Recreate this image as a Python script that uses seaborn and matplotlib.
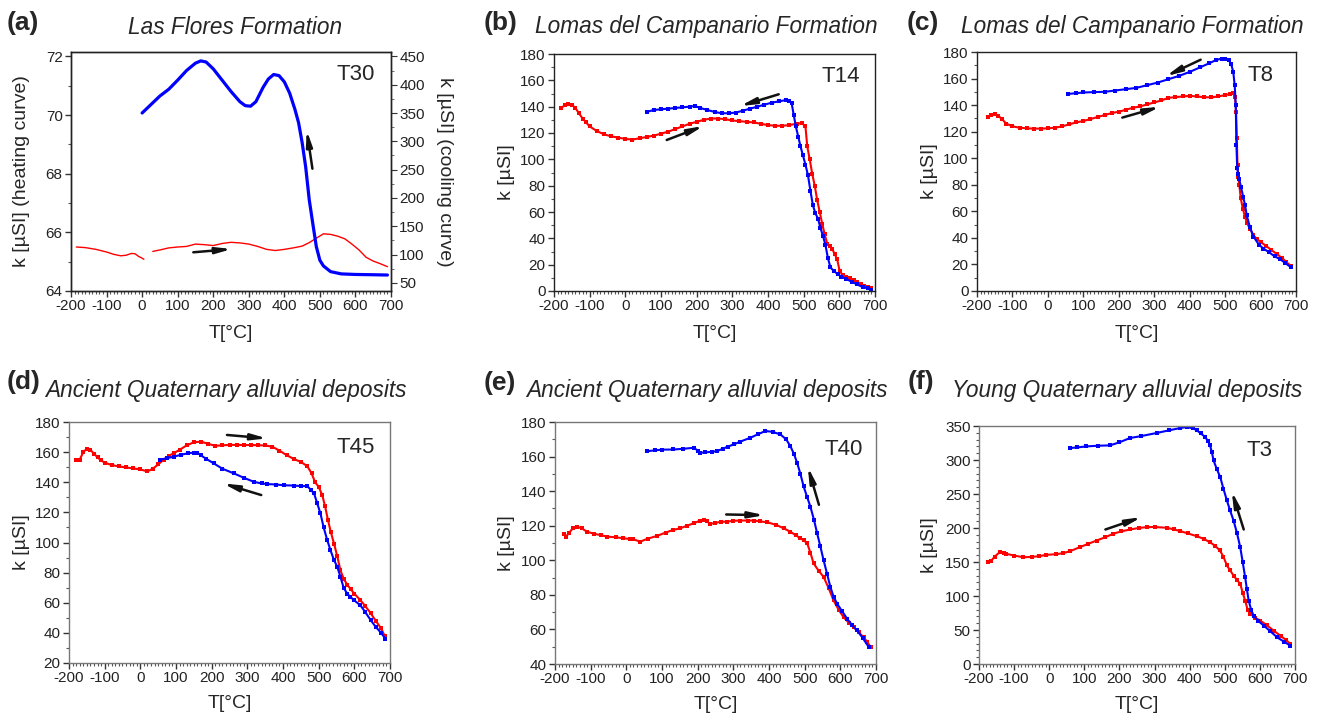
import numpy as np
import pandas as pd
import matplotlib
matplotlib.use("Agg")
import matplotlib.pyplot as plt
from matplotlib.ticker import MultipleLocator
import seaborn as sns

# ---------------- data ----------------
# (a) T30 Las Flores Formation: heating on left axis, cooling on right axis
a_heat_T1 = [-185, -160, -130, -100, -80, -60, -45, -30, -20, -10, 0, 5]
a_heat_k1 = [65.5, 65.48, 65.42, 65.33, 65.25, 65.2, 65.22, 65.28, 65.27, 65.18, 65.12, 65.08]
a_heat_T2 = [30, 50, 75, 100, 125, 150, 175, 200, 225, 250, 275, 300, 325, 350, 375, 400, 425,
             450, 470, 490, 510, 530, 550, 570, 590, 610, 630, 650, 670, 690]
a_heat_k2 = [65.35, 65.4, 65.47, 65.5, 65.52, 65.6, 65.58, 65.55, 65.62, 65.66, 65.64, 65.6, 65.52,
             65.42, 65.38, 65.42, 65.47, 65.53, 65.65, 65.8, 65.95, 65.93, 65.87, 65.78, 65.6, 65.4,
             65.15, 65.02, 64.93, 64.83]
a_cool_T = [0, 25, 50, 75, 100, 125, 150, 165, 180, 200, 225, 250, 275, 290, 305, 320, 340, 355,
            370, 385, 400, 415, 430, 440, 450, 460, 470, 480, 490, 500, 510, 530, 560, 600, 650, 690]
a_cool_k = [350, 365, 380, 392, 408, 425, 438, 442, 440, 428, 408, 388, 370, 363, 362, 370, 395, 410,
            418, 416, 405, 385, 356, 333, 298, 255, 197, 155, 114, 90, 80, 70, 66, 65, 64.5, 64]

# (b) T14
b_heat_T = [-180, -170, -160, -150, -140, -130, -120, -110, -100, -80, -60, -40, -20, 0, 20, 40, 60,
            80, 100, 120, 140, 160, 180, 200, 220, 240, 260, 280, 300, 320, 340, 360, 380, 400, 420,
            440, 460, 480, 495, 505, 510, 517, 524, 531, 538, 545, 552, 559, 566, 573, 580, 587, 594,
            601, 610, 620, 630, 640, 650, 660, 670, 680, 688]
b_heat_k = [139, 141, 142, 141.5, 139, 135, 131, 128, 125, 121.5, 119, 117.5, 116.5, 115.5, 115, 116,
            117, 118, 119.5, 121, 123, 125, 127, 128.5, 130, 131, 131, 130.5, 129.5, 129, 128.5, 128,
            127, 126, 125.5, 125.5, 126, 127, 127.5, 125, 110, 100, 89, 80, 69, 60, 51, 43, 36, 34,
            32, 28, 24, 15, 12, 11, 10, 8, 7, 5, 4, 3, 2]
b_cool_T = [60, 80, 100, 120, 140, 160, 180, 195, 210, 230, 250, 270, 290, 310, 330, 350, 370, 390,
            410, 430, 450, 460, 466, 472, 478, 485, 491, 498, 505, 512, 519, 526, 533, 540, 547, 554,
            561, 568, 575, 585, 595, 605, 620, 635, 650, 665, 680, 688]
b_cool_k = [136, 137.5, 138, 138.5, 139, 139.5, 140, 140.5, 139, 137.5, 136, 135, 135, 135.5, 137,
            138.5, 140, 141.5, 143, 144, 145, 144.5, 143, 134, 125, 117, 110, 103, 96, 88, 76, 65,
            59, 55, 48, 42, 35, 25, 18, 15, 13, 11, 9, 7, 5, 3, 2, 1]

# (c) T8
c_heat_T = [-170, -160, -150, -140, -130, -117, -100, -80, -60, -40, -20, 0, 20, 40, 60, 80, 100,
            120, 140, 160, 180, 200, 220, 240, 260, 280, 300, 320, 340, 360, 380, 400, 420, 440, 460,
            480, 500, 515, 523, 528, 531, 533, 535, 537, 540, 544, 550, 556, 562, 570, 580, 590, 600,
            615, 630, 645, 660, 672, 685]
c_heat_k = [131, 132.5, 133, 132, 129.5, 126, 124, 123, 122.5, 122.3, 122.3, 122.5, 123, 124, 125.5,
            127, 128, 129.5, 131, 132.5, 134, 135, 136.5, 138, 139, 140.5, 142, 143.5, 145.5, 146,
            146.5, 147, 146.5, 146, 145.8, 146.5, 147.5, 148.5, 149, 146, 135, 115, 95, 86, 80, 70,
            62, 56, 51, 47, 42, 39, 37, 34, 31, 28, 25, 22, 19]
c_cool_T = [57, 80, 100, 130, 160, 190, 220, 250, 280, 310, 340, 370, 400, 430, 455, 475, 490, 500,
            510, 517, 523, 527, 530, 532, 534, 537, 540, 545, 551, 556, 561, 570, 580, 595, 608, 625,
            640, 655, 670, 685]
c_cool_k = [148.4, 149, 149.5, 149.8, 150, 151, 152, 153, 155, 157, 159.5, 162, 165, 168.5, 171.5,
            174, 175, 175, 174, 171, 165, 155, 140, 110, 93, 88, 84, 78, 71, 65, 57, 48, 41, 35, 32,
            29, 26, 24, 21, 18]

# (d) T45
d_heat_T = [-180, -170, -160, -150, -140, -130, -120, -110, -100, -80, -60, -40, -20, 0, 20, 35, 50,
            65, 80, 95, 110, 130, 150, 170, 190, 210, 230, 250, 270, 290, 310, 330, 350, 370, 390,
            410, 430, 450, 468, 480, 490, 500, 510, 518, 526, 534, 543, 552, 561, 570, 580, 590, 600,
            617, 630, 646, 660, 675, 685]
d_heat_k = [154.7, 155, 160, 162.3, 161.5, 159, 156.5, 154.5, 153, 151.4, 150.5, 149.8, 149.2, 148.5,
            147.2, 149, 151.8, 155, 157.5, 159.5, 161.5, 164.5, 166.5, 167, 165.5, 164.2, 164.5,
            164.8, 164.8, 164.7, 164.7, 164.6, 164.4, 163.6, 161, 158, 155.5, 153.5, 150.7, 146, 140,
            137, 131.5, 124, 115, 107, 99.3, 91, 81.6, 76, 72, 69, 66, 61.7, 58, 53, 48, 43, 38]
d_cool_T = [56, 75, 94, 115, 135, 150, 160, 169, 185, 206, 230, 262, 290, 318, 340, 356, 380, 402,
            430, 450, 468, 478, 487, 496, 505, 514, 524, 533, 543, 552, 561, 570, 580, 589, 600, 617,
            630, 646, 660, 675, 687]
d_cool_k = [155, 156, 157, 158.3, 159.3, 159.6, 159.5, 158, 155.5, 152.5, 149, 145.9, 143, 140.3,
            139.2, 138.8, 138.5, 138, 137.8, 137.5, 137.4, 135, 132.6, 126, 119.3, 110, 101.6, 95,
            88.3, 84, 77.2, 70, 66, 63.9, 61.5, 58.3, 54, 48.4, 44, 40, 36.2]

# (e) T40
e_heat_T = [-175, -169, -160, -150, -139, -125, -111, -90, -70, -55, -30, -10, 10, 20, 39, 60, 86,
            110, 130, 151, 170, 190, 207, 217, 226, 235, 250, 265, 282, 300, 320, 340, 357, 375, 395,
            420, 441, 460, 475, 488, 498, 507, 516, 525, 539, 553, 567, 581, 595, 609, 623, 637, 651,
            665, 675, 685]
e_heat_k = [115.2, 113.7, 116, 118.5, 119.5, 118.5, 116.6, 115.3, 114.5, 113.7, 113.3, 112.8, 112.3,
            112.1, 110.8, 112.5, 114.1, 116, 117.5, 118.5, 120, 121.5, 123, 123.4, 122.5, 121, 121.7,
            122.2, 122.4, 122.8, 123, 123, 123, 122.5, 122, 120.5, 118.5, 116.5, 114.5, 112.7, 111.5,
            109.8, 104.5, 98.2, 94, 90.4, 84, 76.8, 71.5, 67.1, 64, 61.3, 58.5, 55.5, 53, 49.7]
e_cool_T = [59, 80, 100, 132, 160, 189, 200, 207, 220, 240, 254, 270, 285, 301, 320, 348, 370, 390,
            410, 432, 448, 460, 470, 479, 488, 497, 507, 516, 526, 535, 544, 553, 563, 572, 581, 591,
            605, 619, 633, 647, 663, 680]
e_cool_k = [163.1, 163.6, 164, 164.1, 164.5, 165.1, 163.5, 162.2, 162.4, 162.8, 163.1, 164.5, 165.8,
            167, 168.7, 170.9, 173, 174.8, 174.3, 172.8, 170, 166, 161.5, 156.3, 150, 142.8, 136.5,
            131.1, 123.5, 115.6, 108, 100.1, 92, 84.6, 79, 74.9, 70.5, 66.2, 62.5, 59.4, 55, 49.7]

# (f) T3
f_heat_T = [-174, -165, -155, -141, -130, -122, -100, -74, -50, -30, -8, 20, 40, 60, 87, 110, 135,
            160, 182, 205, 230, 255, 278, 300, 335, 355, 373, 395, 420, 440, 458, 472, 486, 496, 506,
            515, 525, 534, 544, 551, 558, 565, 573, 587, 601, 620, 639, 660, 675, 687]
f_heat_k = [149.7, 152, 158, 164.5, 163.5, 162, 159.5, 157, 157.5, 158.5, 160.5, 161.5, 163, 166,
            171.8, 176.5, 181.6, 186.5, 191.5, 195, 197.8, 200, 201.3, 201.5, 200.3, 198, 195.4, 192,
            188, 184, 179, 174, 167, 158, 145, 138, 130, 124, 117.8, 105, 93.3, 80, 73.6, 68, 63.8,
            57, 49.1, 41, 35, 29.5]
f_cool_T = [59, 80, 106, 140, 173, 200, 230, 260, 306, 340, 373, 392, 410, 420, 432, 444, 452, 458,
            463, 468, 477, 487, 496, 506, 515, 525, 535, 544, 551, 558, 563, 568, 575, 582, 596, 611,
            630, 649, 668, 687]
f_cool_k = [317.6, 318.5, 320, 321, 321.5, 326, 332.3, 335, 339.7, 343.5, 347, 348.5, 346.5, 343.7,
            339, 333.8, 328, 321.5, 312, 299.5, 287, 275, 258, 240.6, 226, 211, 192, 171.8, 150,
            127.6, 110, 93.3, 80, 71.2, 63, 56.5, 48, 39.3, 33, 27]

panel_letters = ["(a)", "(b)", "(c)", "(d)", "(e)", "(f)"]
titles = ["Las Flores Formation", "Lomas del Campanario Formation", "Lomas del Campanario Formation",
          "Ancient Quaternary alluvial deposits", "Ancient Quaternary alluvial deposits",
          "Young Quaternary alluvial deposits"]
samples = ["T30", "T14", "T8", "T45", "T40", "T3"]

# ---------------- style ----------------
sns.set_style("ticks")
plt.rcParams["font.family"] = ["Liberation Sans", "DejaVu Sans"]
plt.rcParams["axes.linewidth"] = 1.0
plt.rcParams["axes.unicode_minus"] = False

W, H = 1318, 718
fig = plt.figure(figsize=(W / 100, H / 100), dpi=100)


def box(l, r, t, b):
    return [l / W, 1 - b / H, (r - l) / W, (b - t) / H]


ax_pos = [box(71, 391, 52, 291), box(554, 875, 54, 291), box(977, 1296, 52, 291),
          box(69, 390, 422, 663), box(555, 876, 422, 664), box(979, 1295, 426, 664)]
axes = [fig.add_axes(p) for p in ax_pos]

RED = "#ff0000"
BLUE = "#0000ff"
ARROW = "#111111"
TICK_FS = 11


def style_axis(ax, spine_color, ymajor, yminor):
    ax.set_xlim(-200, 700)
    ax.xaxis.set_major_locator(MultipleLocator(100))
    ax.xaxis.set_minor_locator(MultipleLocator(10))
    ax.yaxis.set_major_locator(MultipleLocator(ymajor))
    ax.yaxis.set_minor_locator(MultipleLocator(yminor))
    ax.tick_params(axis="both", which="major", direction="out", length=4, width=1,
                   labelsize=TICK_FS, color="#333333", labelcolor="#222222", pad=2)
    ax.tick_params(axis="both", which="minor", direction="out", length=2, width=0.8,
                   color="#555555")
    ax.tick_params(top=False, right=False, which="both")
    for s in ax.spines.values():
        s.set_visible(True)
        s.set_color(spine_color)
    ax.set_xlabel("T[°C]", fontsize=14)
    ax.set_ylabel("k [µSI]", fontsize=14)


def arrow(ax, start, end):
    ax.annotate("", xy=end, xytext=start,
                arrowprops=dict(arrowstyle="-|>,head_length=0.9,head_width=0.18",
                                color=ARROW, lw=1.8, shrinkA=0, shrinkB=0))


def marked(ax, T, k, color):
    sns.lineplot(x=T, y=k, ax=ax, color=color, lw=1.5, marker="s", markersize=2.8,
                 markeredgewidth=0, sort=False, estimator=None)


# ---- (a) ----
ax = axes[0]
sns.lineplot(x=a_heat_T1, y=a_heat_k1, ax=ax, color=RED, lw=1.0, sort=False, estimator=None)
sns.lineplot(x=a_heat_T2, y=a_heat_k2, ax=ax, color=RED, lw=1.0, sort=False, estimator=None)
style_axis(ax, "#222222", 2, 1)
ax.set_ylim(64, 72.15)
ax.set_ylabel("k [µSI] (heating curve)", fontsize=14)
ax2 = ax.twinx()
sns.lineplot(x=a_cool_T, y=a_cool_k, ax=ax2, color=BLUE, lw=2.3, sort=False, estimator=None)
ax2.set_ylim(35.8, 457.7)
ax2.yaxis.set_major_locator(MultipleLocator(50))
ax2.yaxis.set_minor_locator(MultipleLocator(25))
ax2.tick_params(axis="y", which="major", direction="out", length=4, labelsize=TICK_FS,
                color="#333333", labelcolor="#222222", pad=2)
ax2.tick_params(axis="y", which="minor", direction="out", length=2, color="#555555")
ax2.set_ylabel("k [µSI] (cooling curve)", fontsize=14, rotation=270, va="bottom")
ax2.yaxis.set_label_coords(1.14, 0.5)
for s in ax2.spines.values():
    s.set_color("#222222")
arrow(ax, (144, 65.32), (252, 65.43))
arrow(ax, (479, 68.17), (463, 69.48))

# ---- (b) ----
ax = axes[1]
marked(ax, b_heat_T, b_heat_k, RED)
marked(ax, b_cool_T, b_cool_k, BLUE)
style_axis(ax, "#222222", 20, 10)
ax.set_ylim(0, 180)
arrow(ax, (116, 114.7), (219, 125.3))
arrow(ax, (430, 149.4), (322, 140.5))

# ---- (c) ----
ax = axes[2]
marked(ax, c_heat_T, c_heat_k, RED)
marked(ax, c_cool_T, c_cool_k, BLUE)
style_axis(ax, "#222222", 20, 10)
ax.set_ylim(0, 180)
arrow(ax, (431, 174.2), (333, 161.8))
arrow(ax, (210, 130.6), (316, 138.7))

# ---- (d) ----
ax = axes[3]
marked(ax, d_heat_T, d_heat_k, RED)
marked(ax, d_cool_T, d_cool_k, BLUE)
style_axis(ax, "#777777", 20, 10)
ax.set_ylim(20, 180)
arrow(ax, (243, 171.4), (355, 169.1))
arrow(ax, (339, 131.5), (232, 139.2))

# ---- (e) ----
ax = axes[4]
marked(ax, e_heat_T, e_heat_k, RED)
marked(ax, e_cool_T, e_cool_k, BLUE)
style_axis(ax, "#777777", 20, 10)
ax.set_ylim(40, 180)
arrow(ax, (280, 126.5), (387, 126.1))
arrow(ax, (540, 132.1), (509, 154))

# ---- (f) ----
ax = axes[5]
marked(ax, f_heat_T, f_heat_k, RED)
marked(ax, f_cool_T, f_cool_k, BLUE)
style_axis(ax, "#777777", 50, 10)
ax.set_ylim(0, 350)
arrow(ax, (160, 197.8), (263, 216))
arrow(ax, (554, 197.8), (520, 253.8))

# label placement
ylab_x = [-0.128, -0.121, -0.122, -0.121, -0.125, -0.13]
xlab_y = [-0.142, -0.142, -0.142, -0.133, -0.133, -0.133]
samp_pos = [(0.95, 0.904), (0.953, 0.903), (0.928, 0.90), (0.953, 0.896), (0.96, 0.888), (0.93, 0.899)]
for i, ax in enumerate(axes):
    ax.yaxis.set_label_coords(ylab_x[i], 0.5)
    ax.xaxis.set_label_coords(0.5, xlab_y[i])
    ax.text(samp_pos[i][0], samp_pos[i][1], samples[i], transform=ax.transAxes,
            ha="right", va="center", fontsize=16, zorder=5)

# panel letters and titles (pixel positions)
letter_pos = [(7, 23), (484, 23), (907, 23), (7, 382), (484, 383), (908, 382)]
title_pos = [(235, 27), (706, 27), (1132, 27), (226, 390), (707, 391), (1127, 391)]
for i in range(6):
    fig.text(letter_pos[i][0] / W, 1 - letter_pos[i][1] / H, panel_letters[i], fontsize=19,
             fontweight="bold", ha="left", va="center")
    fig.text(title_pos[i][0] / W, 1 - title_pos[i][1] / H, titles[i], fontsize=16.3,
             style="italic", ha="center", va="center")

fig.savefig("out.png", dpi=100)
